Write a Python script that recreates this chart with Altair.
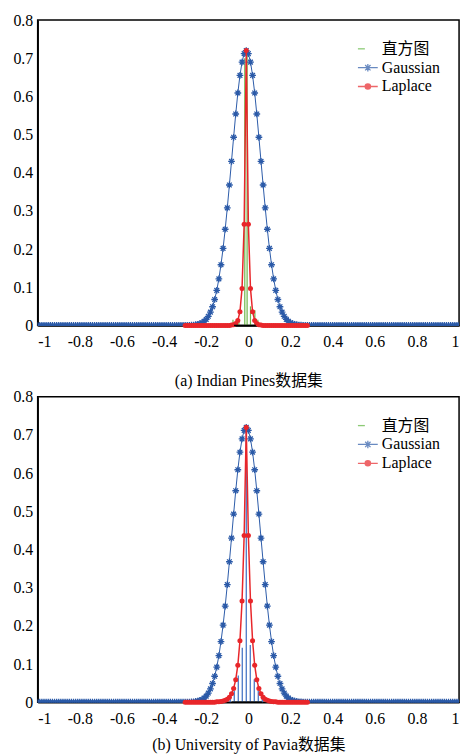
import altair as alt
import pandas as pd

# ---------------- data ----------------
gauss_x = [
    -1.00, -0.99, -0.98, -0.97, -0.96, -0.95, -0.94, -0.93, -0.92, -0.91,
    -0.90, -0.89, -0.88, -0.87, -0.86, -0.85, -0.84, -0.83, -0.82, -0.81,
    -0.80, -0.79, -0.78, -0.77, -0.76, -0.75, -0.74, -0.73, -0.72, -0.71,
    -0.70, -0.69, -0.68, -0.67, -0.66, -0.65, -0.64, -0.63, -0.62, -0.61,
    -0.60, -0.59, -0.58, -0.57, -0.56, -0.55, -0.54, -0.53, -0.52, -0.51,
    -0.50, -0.49, -0.48, -0.47, -0.46, -0.45, -0.44, -0.43, -0.42, -0.41,
    -0.40, -0.39, -0.38, -0.37, -0.36, -0.35, -0.34, -0.33, -0.32, -0.31,
    -0.30, -0.29, -0.28, -0.27, -0.26, -0.25, -0.24, -0.23, -0.22, -0.21,
    -0.20, -0.19, -0.18, -0.17, -0.16, -0.15, -0.14, -0.13, -0.12, -0.11,
    -0.10, -0.09, -0.08, -0.07, -0.06, -0.05, -0.04, -0.03, -0.02, -0.01,
    0.00, 0.01, 0.02, 0.03, 0.04, 0.05, 0.06, 0.07, 0.08, 0.09,
    0.10, 0.11, 0.12, 0.13, 0.14, 0.15, 0.16, 0.17, 0.18, 0.19,
    0.20, 0.21, 0.22, 0.23, 0.24, 0.25, 0.26, 0.27, 0.28, 0.29,
    0.30, 0.31, 0.32, 0.33, 0.34, 0.35, 0.36, 0.37, 0.38, 0.39,
    0.40, 0.41, 0.42, 0.43, 0.44, 0.45, 0.46, 0.47, 0.48, 0.49,
    0.50, 0.51, 0.52, 0.53, 0.54, 0.55, 0.56, 0.57, 0.58, 0.59,
    0.60, 0.61, 0.62, 0.63, 0.64, 0.65, 0.66, 0.67, 0.68, 0.69,
    0.70, 0.71, 0.72, 0.73, 0.74, 0.75, 0.76, 0.77, 0.78, 0.79,
    0.80, 0.81, 0.82, 0.83, 0.84, 0.85, 0.86, 0.87, 0.88, 0.89,
    0.90, 0.91, 0.92, 0.93, 0.94, 0.95, 0.96, 0.97, 0.98, 0.99,
    1.00,
]
gauss_y = [
    0, 0, 0, 0, 0, 0, 0, 0, 0, 0,
    0, 0, 0, 0, 0, 0, 0, 0, 0, 0,
    0, 0, 0, 0, 0, 0, 0, 0, 0, 0,
    0, 0, 0, 0, 0, 0, 0, 0, 0, 0,
    0, 0, 0, 0, 0, 0, 0, 0, 0, 0,
    0, 0, 0, 0, 0, 0, 0, 0, 0, 0,
    0, 0, 0, 0, 0, 0, 0, 0, 0, 0,
    0, 0, 0, 0.001, 0.001, 0.002, 0.003, 0.005, 0.007, 0.011,
    0.016, 0.024, 0.035, 0.049, 0.068, 0.092, 0.122, 0.159, 0.202, 0.252,
    0.308, 0.368, 0.430, 0.493, 0.554, 0.609, 0.655, 0.690, 0.712, 0.720,
    0.712, 0.690, 0.655, 0.609, 0.554, 0.493, 0.430, 0.368, 0.308, 0.252,
    0.202, 0.159, 0.122, 0.092, 0.068, 0.049, 0.035, 0.024, 0.016, 0.011,
    0.007, 0.005, 0.003, 0.002, 0.001, 0.001, 0, 0, 0, 0,
    0, 0, 0, 0, 0, 0, 0, 0, 0, 0,
    0, 0, 0, 0, 0, 0, 0, 0, 0, 0,
    0, 0, 0, 0, 0, 0, 0, 0, 0, 0,
    0, 0, 0, 0, 0, 0, 0, 0, 0, 0,
    0, 0, 0, 0, 0, 0, 0, 0, 0, 0,
    0, 0, 0, 0, 0, 0, 0, 0, 0, 0,
    0, 0, 0, 0, 0, 0, 0, 0, 0, 0,
    0,
]

lap_x = [
    -0.30, -0.29, -0.28, -0.27, -0.26, -0.25, -0.24, -0.23, -0.22, -0.21,
    -0.20, -0.19, -0.18, -0.17, -0.16, -0.15, -0.14, -0.13, -0.12, -0.11,
    -0.10, -0.09, -0.08, -0.07, -0.06, -0.05, -0.04, -0.03, -0.02, -0.01,
    0.00, 0.01, 0.02, 0.03, 0.04, 0.05, 0.06, 0.07, 0.08, 0.09,
    0.10, 0.11, 0.12, 0.13, 0.14, 0.15, 0.16, 0.17, 0.18, 0.19,
    0.20, 0.21, 0.22, 0.23, 0.24, 0.25, 0.26, 0.27, 0.28,
]
lap_a_y = [
    0, 0, 0, 0, 0, 0, 0, 0, 0, 0,
    0, 0, 0, 0, 0, 0, 0, 0, 0, 0,
    0, 0, 0.001, 0.002, 0.005, 0.013, 0.036, 0.097, 0.265, 0.720,
    0.265, 0.097, 0.036, 0.013, 0.005, 0.002, 0.001, 0, 0, 0,
    0, 0, 0, 0, 0, 0, 0, 0, 0, 0,
    0, 0, 0, 0, 0, 0, 0, 0, 0,
]
lap_b_y = [
    0, 0, 0, 0, 0, 0, 0, 0, 0, 0,
    0, 0, 0, 0, 0, 0.001, 0.001, 0.002, 0.003, 0.005,
    0.008, 0.013, 0.022, 0.036, 0.059, 0.097, 0.161, 0.265, 0.437, 0.720,
    0.437, 0.265, 0.161, 0.097, 0.059, 0.036, 0.022, 0.013, 0.008, 0.005,
    0.003, 0.002, 0.001, 0.001, 0, 0, 0, 0, 0, 0,
    0, 0, 0, 0, 0, 0, 0, 0, 0,
]

hist_a_x = [-0.073, -0.045, -0.017, -0.006, 0.010, 0.031, 0.045]
hist_a_y = [0.015, 0.010, 0.700, 0.720, 0.050, 0.040, 0.015]
hist_b_x = [-0.086, -0.067, -0.048, -0.029, -0.010, 0.009, 0.028, 0.047, 0.066]
hist_b_y = [0.012, 0.030, 0.070, 0.143, 0.720, 0.150, 0.060, 0.030, 0.012]
baseline_a = [-0.068, 0.035]
baseline_b = [-0.078, 0.064]

series_names = ["直方图", "Gaussian", "Laplace"]
series_colors = ["#5cb53c", "#2b5aa8", "#e8262a"]
x_ticks = [-1, -0.8, -0.6, -0.4, -0.2, 0, 0.2, 0.4, 0.6, 0.8, 1]
y_ticks = [0, 0.1, 0.2, 0.3, 0.4, 0.5, 0.6, 0.7, 0.8]
captions = ["(a) Indian Pines数据集", "(b) University of Pavia数据集"]

# ---------------- styling ----------------
FONT = "'Liberation Serif', 'Times New Roman', 'Noto Sans CJK SC', serif"
ASTERISK = "M0,-1L0,1M-1,0L1,0M-0.7,-0.7L0.7,0.7M-0.7,0.7L0.7,-0.7"
LEG_HIST = "M-1,0L-0.3,0"
LEG_GAUSS = ("M-1,0L1,0M0,-0.38L0,0.38M-0.38,0L0.38,0"
             "M-0.27,-0.27L0.27,0.27M-0.27,0.27L0.27,-0.27")
LEG_LAP = ("M-1,0L1,0"
           "M0.27,0A0.27,0.27,0,1,1,-0.27,0A0.27,0.27,0,1,1,0.27,0"
           "M0.16,0A0.16,0.16,0,1,1,-0.16,0A0.16,0.16,0,1,1,0.16,0"
           "M0.06,0A0.06,0.06,0,1,1,-0.06,0A0.06,0.06,0,1,1,0.06,0")
LEG_PATHS = [LEG_HIST, LEG_GAUSS, LEG_LAP]

LABEL_EXPR = ("datum.value < 0 ? '-' + format(-datum.value, '~g') "
              ": format(datum.value, '~g')")


def panel(lap_y, hx, hy, base, hist_color, caption, title_pad):
    gdf = pd.DataFrame({"x": gauss_x, "y": gauss_y})
    ldf = pd.DataFrame({"x": lap_x, "y": lap_y})
    hdf = pd.DataFrame({"x": hx, "y": hy})
    bdf = pd.DataFrame({"x": [base[0]], "x2": [base[1]], "y": [0]})
    legdf = pd.DataFrame({"series": series_names})

    xs = alt.Scale(domain=[-1, 1], nice=False, zero=False)
    ys = alt.Scale(domain=[0, 0.8], nice=False)
    common = dict(labelFont=FONT, labelFontSize=16, labelColor="black",
                  titleFont=FONT, titleFontSize=16, titleFontWeight="normal",
                  titleColor="black", domainColor="black", domainWidth=1.5,
                  tickSize=0, grid=False)
    xax = alt.Axis(values=x_ticks, labelExpr=LABEL_EXPR, title=caption,
                   labelPadding=8, titlePadding=title_pad, **common)
    yax = alt.Axis(values=y_ticks, labelExpr=LABEL_EXPR, title=None,
                   labelPadding=5, **common)
    X = alt.X("x:Q", scale=xs, axis=xax)
    Y = alt.Y("y:Q", scale=ys, axis=yax)

    stems = alt.Chart(hdf).mark_rule(color=hist_color, strokeWidth=1.2).encode(
        x=X, y=Y, y2=alt.datum(0))
    gline = alt.Chart(gdf).mark_line(color="#2b5aa8", strokeWidth=1).encode(x=X, y=Y)
    gpts = alt.Chart(gdf).mark_point(shape=ASTERISK, color="#2b5aa8", size=46,
                                     strokeWidth=1.3, opacity=1, clip=True).encode(x=X, y=Y)
    lline = alt.Chart(ldf).mark_line(color="#e8262a", strokeWidth=1.5).encode(x=X, y=Y)
    lpts = alt.Chart(ldf).mark_circle(color="#e8262a", size=26, opacity=1).encode(x=X, y=Y)
    bline = alt.Chart(bdf).mark_rule(color="black", strokeWidth=1.5).encode(
        x=X, x2="x2:Q", y=Y)

    leg = alt.Legend(orient="none", legendX=322, legendY=18, title=None,
                     labelFont=FONT, labelFontSize=16, labelColor="black",
                     symbolSize=400, symbolStrokeWidth=1.3, padding=0,
                     rowPadding=0, labelOffset=3)
    legend_layer = alt.Chart(legdf).mark_point(filled=False, strokeWidth=1.3).encode(
        color=alt.Color("series:N", scale=alt.Scale(domain=series_names, range=series_colors),
                        legend=leg),
        shape=alt.Shape("series:N", scale=alt.Scale(domain=series_names, range=LEG_PATHS),
                        legend=leg),
    ).transform_filter("datum.series == 'none'")

    return alt.layer(stems, gline, gpts, lline, lpts, bline, legend_layer).properties(
        width=425, height=308)


top = panel(lap_a_y, hist_a_x, hist_a_y, baseline_a, "#6cb84a", captions[0], 24)
bottom = panel(lap_b_y, hist_b_x, hist_b_y, baseline_b, "#3a6cc0", captions[1], 11)

chart = alt.VConcatChart(vconcat=[top, bottom], spacing=72, bounds="flush").resolve_scale(
    color="independent", shape="independent").properties(
    padding={"left": 12, "top": 8, "right": 4, "bottom": 0}
).configure_view(stroke="black", strokeWidth=1.5).configure_axis(
    labelFont=FONT, titleFont=FONT,
).configure_legend(labelFont=FONT)

chart.save("out.html", embed_options={"renderer": "svg", "actions": False})
